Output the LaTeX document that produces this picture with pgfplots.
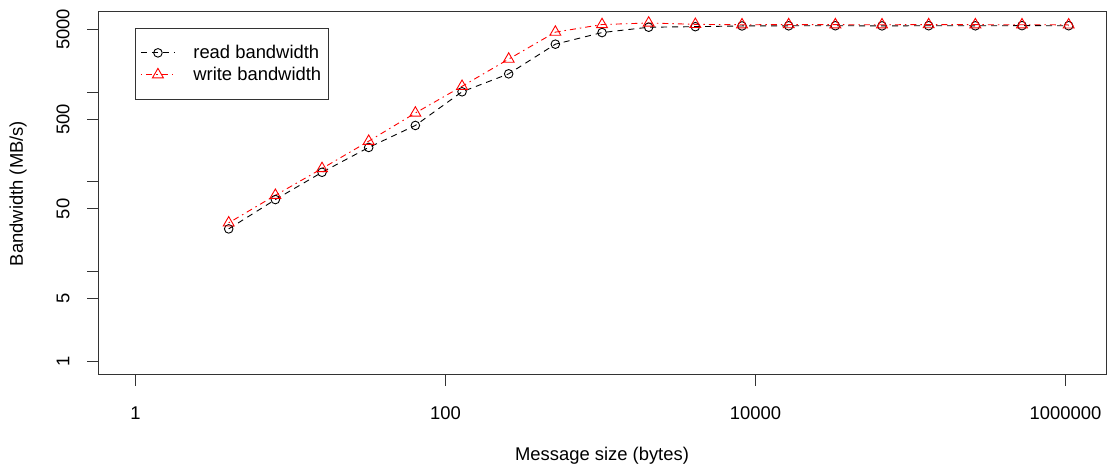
\documentclass[border=0pt]{standalone}
\usepackage{fontspec}
\setmainfont{Liberation Sans}
\usepackage{pgfplots}
\pgfplotsset{compat=1.18}
\newcommand\rf{\fontsize{18.4bp}{22bp}\selectfont}
\begin{document}
\begin{tikzpicture}[x=1bp,y=1bp]
\path[use as bounding box] (0,0) rectangle (1108,470);
\begin{axis}[
  at={(98bp,95bp)}, anchor=south west,
  scale only axis, width=1008bp, height=363bp,
  xmode=log, ymode=log,
  xmin=0.574, xmax=1826000, ymin=0.7086, ymax=7798,
  axis line style={line width=1bp, black!80},
  tick pos=left, tick align=outside,
  major tick length=11bp,
  tick style={line width=1bp, black!80},
  xminorticks=false, yminorticks=false,
  xtick={1,100,10000,1000000},
  xticklabels={1,100,10000,1000000},
  ytick={1,5,10,50,100,500,1000,5000},
  yticklabels={1,5,,50,,500,,5000},
  /pgf/number format/assume math mode=true,
  xticklabel style={font=\rf, anchor=center, yshift=-27bp},
  yticklabel style={font=\rf, anchor=center, xshift=-24bp, rotate=90},
  every axis x label/.style={at={(rel axis cs:0.5,0)}, anchor=center, yshift=-81bp, font=\rf},
  every axis y label/.style={at={(rel axis cs:0,0.5)}, anchor=center, xshift=-80bp, rotate=90, font=\rf},
  xlabel={Message size (bytes)},
  ylabel={Bandwidth (MB/s)},
  legend style={at={(0.0367,0.956)}, anchor=north west, draw=black!80, line width=1bp,
    font=\rf, inner xsep=5bp, inner ysep=15bp, row sep=3bp},
  legend cell align=left,
  legend image code/.code={\draw[mark repeat=2,mark phase=2,#1] plot coordinates {(0bp,0bp) (17bp,0bp) (34bp,0bp)};
    \path (50bp,0bp);},
]
\addplot[black, dash pattern=on 6bp off 5bp, line width=0.9bp, mark=o, mark size=4.3bp, mark options={solid, line width=0.9bp}]
coordinates {
(4,30.0) (8,63.6) (16,128) (32,242) (64,425) (128,1008) (256,1597) (512,3415)
(1024,4600) (2048,5275) (4096,5350) (8192,5450) (16384,5470) (32768,5480)
(65536,5460) (131072,5480) (262144,5470) (524288,5490) (1048576,5480)
};
\addlegendentry{read bandwidth}
\addplot[red, dash pattern=on 1.5bp off 4bp on 6bp off 4bp, line width=0.9bp, mark=triangle, mark size=6.3bp, mark options={solid, line width=0.9bp}]
coordinates {
(4,35) (8,71) (16,141) (32,284) (64,585) (128,1160) (256,2330) (512,4650)
(1024,5650) (2048,5880) (4096,5680) (8192,5620) (16384,5640) (32768,5630)
(65536,5620) (131072,5640) (262144,5630) (524288,5620) (1048576,5610)
};
\addlegendentry{write bandwidth}
\end{axis}
\end{tikzpicture}
\end{document}
